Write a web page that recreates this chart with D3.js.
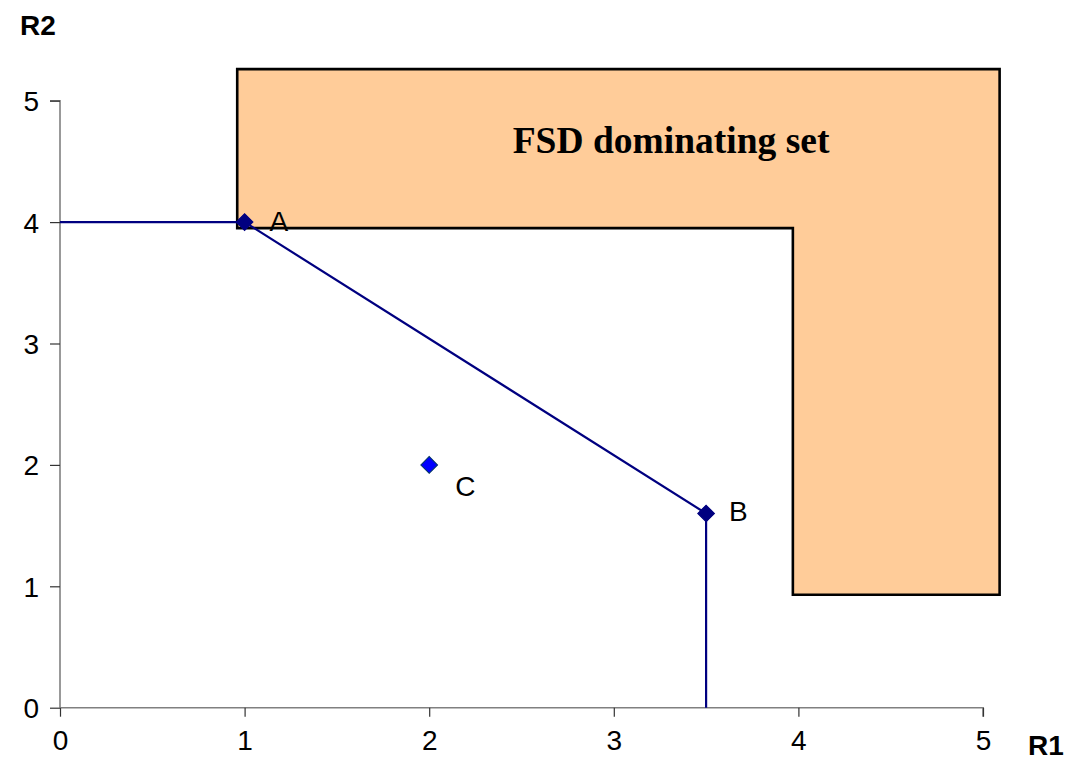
<!DOCTYPE html>
<html>
<head>
<meta charset="utf-8">
<script src="https://cdn.jsdelivr.net/npm/d3@7"></script>
<style>
  html, body { margin: 0; padding: 0; background: #fff; }
  svg { display: block; }
</style>
</head>
<body>
<svg id="chart" width="1069" height="765"></svg>
<script>
// Axis ticks
const xTicks = [0, 1, 2, 3, 4, 5];
const yTicks = [0, 1, 2, 3, 4, 5];

// Alternatives (R1, R2)
const pointNames = ["A", "B", "C"];
const pointR1 = [1, 3.5, 2];
const pointR2 = [4, 1.6, 2];

// Efficient frontier through A and B
const frontierR1 = [0, 1, 3.5, 3.5];
const frontierR2 = [4, 4, 1.6, 0];

// FSD dominating set outline
const regionR1 = [0.96, 5.09, 5.09, 3.97, 3.97, 0.96];
const regionR2 = [5.26, 5.26, 0.93, 0.93, 3.95, 3.95];

const svg = d3.select("#chart");
const x = d3.scaleLinear().domain([0, 5]).range([60, 983]);
const y = d3.scaleLinear().domain([0, 5]).range([707.7, 100.7]);

const sans = "'Liberation Sans', Arial, Helvetica, sans-serif";

// Dominating region
svg.append("path")
  .attr("d", d3.line()(regionR1.map((v, i) => [x(v), y(regionR2[i])])) + "Z")
  .attr("fill", "#FFCC99")
  .attr("stroke", "#000")
  .attr("stroke-width", 2.6);

svg.append("text")
  .attr("x", x(3.31))
  .attr("y", y(4.57))
  .attr("text-anchor", "middle")
  .attr("font-family", "'Liberation Serif', 'Times New Roman', serif")
  .attr("font-weight", "bold")
  .attr("font-size", 37.5)
  .attr("fill", "#000")
  .text("FSD dominating set");

// Axes
const xAxis = d3.axisBottom(x).tickValues(xTicks).tickSize(9).tickPadding(13).tickFormat(d3.format("d"));
const yAxis = d3.axisLeft(y).tickValues(yTicks).tickSize(10).tickPadding(11).tickFormat(d3.format("d"));

const gx = svg.append("g").attr("transform", `translate(0,${y(0)})`).call(xAxis);
const gy = svg.append("g").attr("transform", `translate(${x(0)},0)`).call(yAxis);

[gx, gy].forEach(g => {
  g.select(".domain").attr("stroke", "#808080").attr("stroke-width", 1.6);
  g.selectAll(".tick line").attr("stroke", "#333").attr("stroke-width", 1.2);
  g.selectAll(".tick text")
    .attr("font-family", sans)
    .attr("font-size", 28)
    .attr("fill", "#000");
});
gx.select(".domain").attr("d", `M${x(0)},0H${x(5)}V9`);
gy.select(".domain").attr("d", `M-10,${y(5)}H0V${y(0)}`);
gx.selectAll(".tick text").attr("dy", "0.71em");
gy.selectAll(".tick text").attr("dy", "0.36em");

// Axis titles
svg.append("text")
  .attr("x", 20).attr("y", 35)
  .attr("font-family", sans).attr("font-weight", "bold").attr("font-size", 28)
  .text("R2");
svg.append("text")
  .attr("x", 1028).attr("y", 755)
  .attr("font-family", sans).attr("font-weight", "bold").attr("font-size", 28)
  .text("R1");

// Frontier line
svg.append("path")
  .attr("d", d3.line()(frontierR1.map((v, i) => [x(v), y(frontierR2[i])])))
  .attr("fill", "none")
  .attr("stroke", "#000080")
  .attr("stroke-width", 2.2);

// Point markers
const diamond = d3.symbol().type(d3.symbolSquare).size(140);
const markerFill = ["#000080", "#000080", "#0000FF"];
const markerStroke = ["#000080", "#000080", "#003366"];
svg.append("g").selectAll("path")
  .data(pointNames)
  .join("path")
  .attr("d", diamond)
  .attr("transform", (d, i) => `translate(${x(pointR1[i])},${y(pointR2[i])}) rotate(45)`)
  .attr("fill", (d, i) => markerFill[i])
  .attr("stroke", (d, i) => markerStroke[i])
  .attr("stroke-width", 1);

// Point labels
const labelDx = [25, 23, 26];
const labelDy = [9, 8, 31];
svg.append("g").selectAll("text")
  .data(pointNames)
  .join("text")
  .attr("x", (d, i) => x(pointR1[i]) + labelDx[i])
  .attr("y", (d, i) => y(pointR2[i]) + labelDy[i])
  .attr("font-family", sans)
  .attr("font-size", 28)
  .attr("fill", "#000")
  .text(d => d);
</script>
</body>
</html>
